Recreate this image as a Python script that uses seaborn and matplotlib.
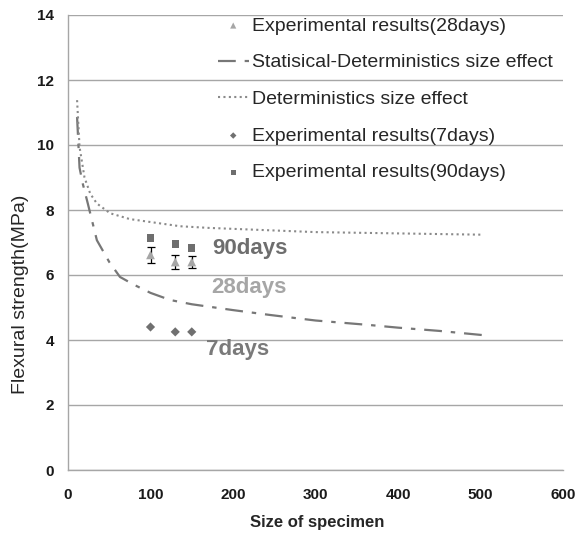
import matplotlib
matplotlib.use("Agg")
import matplotlib.pyplot as plt
import seaborn as sns
import numpy as np
import pandas as pd

# ---- data ----
det_x = [11, 14, 20, 27, 35, 51, 75, 100, 136, 170, 200, 250, 300, 350, 400, 450, 503]
det_y = [11.38, 9.94, 9.0, 8.5, 8.2, 7.9, 7.72, 7.63, 7.5, 7.45, 7.42, 7.37, 7.32, 7.3, 7.28, 7.26, 7.24]

sd_x = [11, 14, 18, 24, 35, 50, 63, 80, 100, 124, 150, 200, 245, 300, 366, 400, 450, 503]
sd_y = [10.86, 9.3, 8.8, 8.2, 7.07, 6.4, 5.94, 5.7, 5.45, 5.23, 5.1, 4.92, 4.77, 4.6, 4.46, 4.38, 4.28, 4.15]

size_x = [100, 130, 150]
d28 = [6.62, 6.4, 6.4]
d28_err = [0.25, 0.23, 0.18]
d7 = [4.4, 4.25, 4.25]
d90 = [7.14, 6.95, 6.83]

labels = ["Experimental results(28days)", "Statisical-Deterministics size effect",
          "Deterministics size effect", "Experimental results(7days)",
          "Experimental results(90days)"]
xticks = [0, 100, 200, 300, 400, 500, 600]
yticks = [0, 2, 4, 6, 8, 10, 12, 14]

sns.set_style("white")
plt.rcParams['font.family'] = ['Liberation Sans', 'DejaVu Sans']

fig = plt.figure(figsize=(5.77, 5.33), dpi=100)
ax = fig.add_axes([68/577, 63/533, 495/577, 455/533])

df_det = pd.DataFrame({"x": det_x, "y": det_y})
df_sd = pd.DataFrame({"x": sd_x, "y": sd_y})
df_pts = pd.DataFrame({"x": size_x, "d28": d28, "d7": d7, "d90": d90})

ax.errorbar(size_x, d28, yerr=d28_err, fmt="none", ecolor="black", elinewidth=0.9,
            capsize=3, capthick=0.9, zorder=2)
sns.scatterplot(data=df_pts, x="x", y="d28", ax=ax, marker="^", s=40, color="#a6a6a6",
                edgecolor="none", label=labels[0], zorder=3)
sns.lineplot(data=df_sd, x="x", y="y", ax=ax, color="#777777", lw=1.6,
             dashes=False, label=labels[1], zorder=2).lines[-1].set_dashes([8, 4, 2, 4])
sns.lineplot(data=df_det, x="x", y="y", ax=ax, color="#8a8a8a", lw=1.5,
             label=labels[2], zorder=2).lines[-1].set_dashes([1, 1.6])
sns.scatterplot(data=df_pts, x="x", y="d7", ax=ax, marker="D", s=22, color="#707070",
                edgecolor="none", label=labels[3], zorder=3)
sns.scatterplot(data=df_pts, x="x", y="d90", ax=ax, marker="s", s=28, color="#6e6e6e",
                edgecolor="none", label=labels[4], zorder=3)

ax.set_xlim(0, 600)
ax.set_ylim(0, 14)
ax.set_xticks(xticks, labels=[str(v) for v in xticks], fontweight="bold", fontsize=11)
ax.set_yticks(yticks, labels=[str(v) for v in yticks], fontweight="bold", fontsize=11)
ax.yaxis.grid(True, color="#a6a6a6", lw=1)
ax.xaxis.grid(False)
for s in ["top", "right"]:
    ax.spines[s].set_visible(False)
for s in ["left", "bottom"]:
    ax.spines[s].set_color("#a6a6a6")
    ax.spines[s].set_linewidth(1)
ax.tick_params(axis="both", which="major", length=5, width=1, color="#a6a6a6",
               direction="out", pad=5, labelcolor="#1a1a1a")
ax.tick_params(axis="x", pad=8)
ax.set_xlabel("Size of specimen", fontsize=12, fontweight="bold")
ax.set_ylabel("Flexural strength(MPa)", fontsize=14)
ax.xaxis.set_label_coords(0.503, -0.098)
ax.yaxis.set_label_coords(-0.078, 0.387)

ax.text(175, 6.83, "90days", fontsize=16, fontweight="bold", color="#6e6e6e",
        va="center", ha="left")
ax.text(174, 5.63, "28days", fontsize=16, fontweight="bold", color="#a6a6a6",
        va="center", ha="left")
ax.text(167, 3.7, "7days", fontsize=16, fontweight="bold", color="#7a7a7a",
        va="center", ha="left")

leg = ax.legend(loc="upper left", bbox_to_anchor=(0.267, 1.034), frameon=False,
                fontsize=14, labelspacing=0.98, handlelength=1.6, handletextpad=0.15,
                markerscale=0.7, borderpad=0.4)

fig.savefig("out.png", dpi=100)
